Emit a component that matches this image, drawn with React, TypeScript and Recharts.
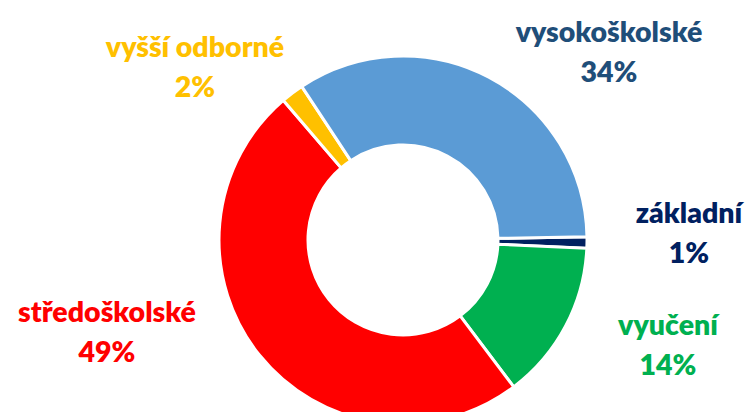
import { PieChart, Pie, Cell } from 'recharts';

const CATEGORIES = ['základní', 'vyučení', 'středoškolské', 'vyšší odborné', 'vysokoškolské'];
const SHARES = [1, 14, 49, 2, 34];

const SLICE_COLORS = ['#002060', '#00B050', '#FF0000', '#FFC000', '#5B9BD5'];
const LABEL_COLORS = ['#002060', '#00B050', '#FF0000', '#FFC000', '#1F4E79'];
// label offsets from the pie centre (text centre x, first baseline y)
const LABEL_OFFSETS: [number, number][] = [
  [286, -17],
  [265, 95],
  [-296, 82],
  [-208, -183],
  [206, -198],
];

const data = CATEGORIES.map((name, i) => ({ name, value: SHARES[i] }));

function SliceLabel({ cx, cy, index, value }: any) {
  const [dx, dy] = LABEL_OFFSETS[index];
  return (
    <text
      x={cx + dx}
      y={cy + dy}
      textAnchor="middle"
      fill={LABEL_COLORS[index]}
      style={{ fontFamily: 'Lato, sans-serif', fontWeight: 800, fontSize: 28.5 }}
    >
      <tspan x={cx + dx}>{CATEGORIES[index]}</tspan>
      <tspan x={cx + dx} dy={40}>{value}%</tspan>
    </text>
  );
}

export default function App() {
  return (
    <div style={{ position: 'absolute', left: 0, top: 0, background: '#fff' }}>
      <PieChart width={745} height={412}>
        <Pie
          data={data}
          dataKey="value"
          nameKey="name"
          cx={398}
          cy={235}
          innerRadius={95}
          outerRadius={184}
          startAngle={1}
          endAngle={-359}
          stroke="#fff"
          strokeWidth={3}
          label={<SliceLabel />}
          labelLine={false}
          isAnimationActive={false}
        >
          {data.map((d, i) => (
            <Cell key={d.name} fill={SLICE_COLORS[i]} />
          ))}
        </Pie>
      </PieChart>
    </div>
  );
}
